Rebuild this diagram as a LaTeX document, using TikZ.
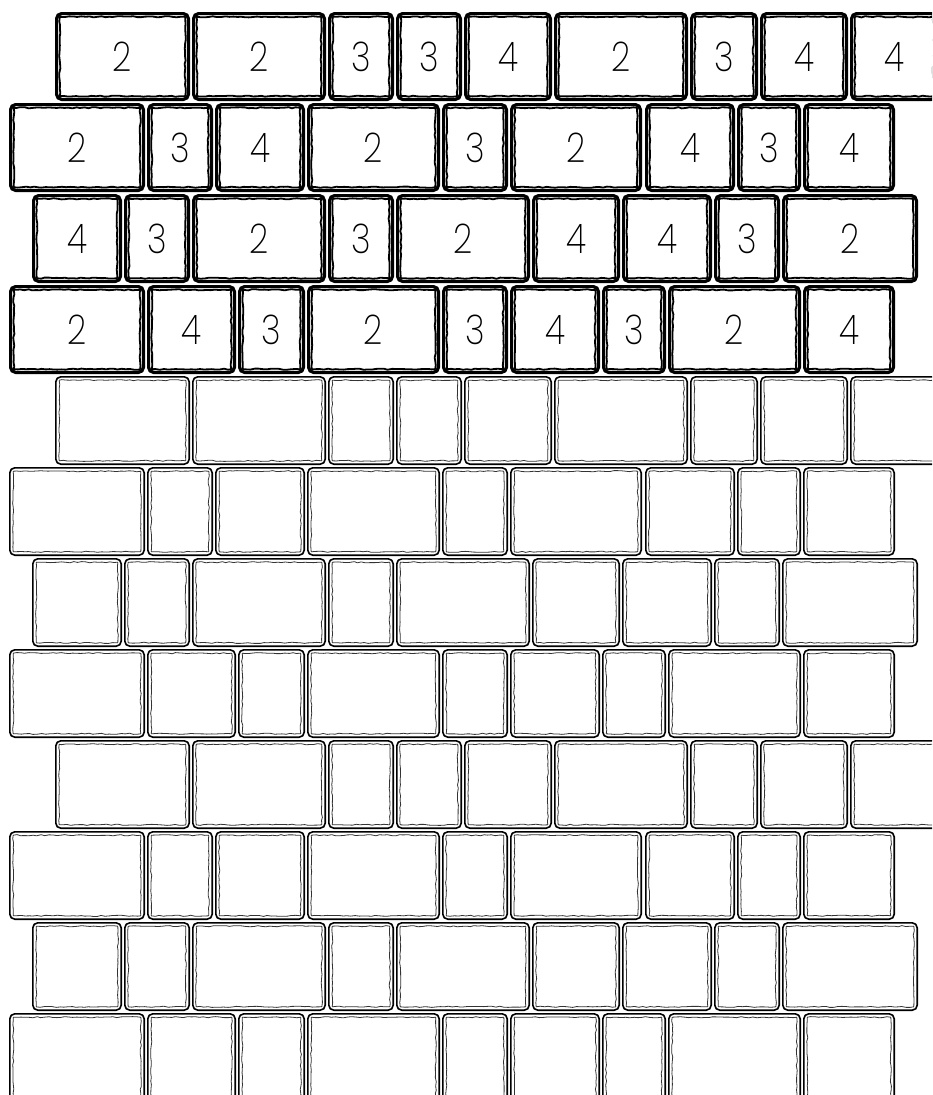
\documentclass[tikz,border=0pt]{standalone}
\usepackage{fontspec}
\newfontfamily\numfont[FakeStretch=0.82]{Poppins ExtraLight}
\usetikzlibrary{decorations.pathmorphing}
\tikzset{
  thickbrick/.style={draw=black, line width=3.2pt, rounded corners=5pt, inner sep=0pt, outer sep=0pt, fill=white,
     font=\numfont\fontsize{41}{41}\selectfont},
  thinbrick/.style={draw=black, line width=1.6pt, rounded corners=5pt, inner sep=0pt, outer sep=0pt, fill=white},
  thickwavy/.style={draw=black, line width=1.8pt, line join=round, decorate,
     decoration={random steps, segment length=4pt, amplitude=0.6pt}},
  thinwavy/.style={draw=black!80, line width=0.8pt, line join=round, decorate,
     decoration={random steps, segment length=4pt, amplitude=0.6pt}},
}
\def\rowA{55/190/2,192/326/2,328/394/3,396/462/3,464/552/4,554/688/2,690/758/3,760/848/4,850/938/4}
\def\rowB{9/145/2,147/213/3,215/305/4,307/440/2,442/508/3,510/642/2,645/735/4,737/801/3,803/895/4}
\def\rowC{32/122/4,124/190/3,192/326/2,328/394/3,396/530/2,532/620/4,622/712/4,714/780/3,782/918/2}
\def\rowD{9/145/2,147/236/4,238/305/3,307/440/2,442/508/3,510/600/4,602/666/3,668/801/2,803/895/4}
\begin{document}
\begin{tikzpicture}[x=1pt,y=-1pt]
\pgfmathsetseed{4711}
\useasboundingbox (0,0) rectangle (932,1095);
\clip (0,0) rectangle (932,1095);
\foreach \r in {1,...,12} {
  \pgfmathtruncatemacro\pat{mod(\r-1,4)}
  \ifcase\pat \let\cur\rowA \or \let\cur\rowB \or \let\cur\rowC \else \let\cur\rowD \fi
  \pgfmathsetmacro\rtop{12+91*(\r-1)}
  \foreach \a/\b/\l [count=\i] in \cur {
    \pgfmathsetmacro\cx{(\a+\b)/2}
    \pgfmathsetmacro\cy{\rtop+44.5}
    \ifnum\r<5
      \pgfmathsetmacro\w{\b-\a-3.2}
      \node[thickbrick, minimum width=\w pt, minimum height=85.8pt] (b-\r-\i) at (\cx,\cy) {\l};
      \draw[thickwavy] ([xshift=3.2pt,yshift=-3.2pt]b-\r-\i.north west) rectangle ([xshift=-3.2pt,yshift=3.2pt]b-\r-\i.south east);
    \else
      \pgfmathsetmacro\w{\b-\a-1.6}
      \node[thinbrick, minimum width=\w pt, minimum height=87.4pt] (b-\r-\i) at (\cx,\cy) {};
      \draw[thinwavy] ([xshift=3.4pt,yshift=-3.4pt]b-\r-\i.north west) rectangle ([xshift=-3.4pt,yshift=3.4pt]b-\r-\i.south east);
    \fi
  }
}
\end{tikzpicture}
\end{document}
